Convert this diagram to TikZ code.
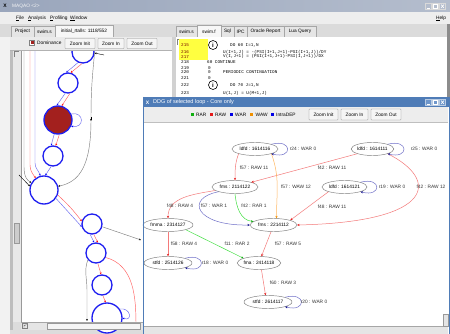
\documentclass[tikz,border=0pt]{standalone}
\usepackage{fontspec}
\setmainfont{Liberation Sans}
\setmonofont{Liberation Mono}
\usetikzlibrary{shapes.geometric,arrows.meta}
\definecolor{wintitleL}{HTML}{9AA6BC}
\definecolor{wintitleR}{HTML}{B4BDCD}
\definecolor{menubg}{HTML}{EEEEEE}
\definecolor{panelbg}{HTML}{DCDCDC}
\definecolor{dlgblue}{HTML}{4F7CB7}
\definecolor{dlgbtn}{HTML}{6F97CB}
\definecolor{rawc}{HTML}{F47A7A}
\definecolor{rawtip}{HTML}{E41A1A}
\definecolor{warc}{HTML}{7070C8}
\definecolor{wartip}{HTML}{12128A}
\definecolor{rarc}{HTML}{44E044}
\definecolor{rartip}{HTML}{10B010}
\definecolor{wawc}{HTML}{FFB760}
\definecolor{wawtip}{HTML}{F09000}
\definecolor{ngray}{HTML}{7C7C7C}
\definecolor{cblue}{HTML}{1E1EF0}
\definecolor{cred}{HTML}{A3201E}
\definecolor{lnred}{HTML}{FF6060}
\definecolor{lnblue}{HTML}{6A6AF0}
\definecolor{lngray}{HTML}{808080}
\definecolor{hlyellow}{HTML}{FFFF40}
\tikzset{
  uitext/.style={font=\fontsize{4.8}{5.5}\selectfont, inner sep=0},
  tabbox/.style={draw=black!35, fill=black!10},
  btnbox/.style={draw=black!45, fill=black!4, rounded corners=0.6pt},
  codetxt/.style={font=\ttfamily\fontsize{4.3}{5}\selectfont, inner sep=0, anchor=west},
  dnode/.style={ellipse, draw=ngray, line width=0.45pt, minimum height=13pt, inner sep=0, fill=white, font=\fontsize{4.8}{5.5}\selectfont},
  elab/.style={font=\fontsize{4.8}{5.5}\selectfont, text=black!80, inner sep=0},
  rawe/.style={draw=rawc, line width=0.5pt, -{Stealth[length=2.4pt,width=2.2pt,color=rawtip]}},
  ware/.style={draw=warc, line width=0.5pt, -{Stealth[length=2.4pt,width=2.2pt,color=wartip]}},
  rare/.style={draw=rarc, line width=0.5pt, -{Stealth[length=2.4pt,width=2.2pt,color=rartip]}},
  wawe/.style={draw=wawc, line width=0.5pt, -{Stealth[length=2.4pt,width=2.2pt,color=wawtip]}},
  lc/.style={circle, draw=cblue, line width=1.3pt, fill=white, inner sep=0},
  lred/.style={draw=lnred, line width=0.45pt, -{Stealth[length=2pt,width=1.8pt,color=red]}},
  lblu/.style={draw=lnblue, line width=0.45pt, -{Stealth[length=2pt,width=1.8pt,color=blue]}},
  lgry/.style={draw=lngray, line width=0.45pt, -{Stealth[length=2pt,width=1.8pt,color=black]}},
}
\begin{document}
\begin{tikzpicture}[x=1pt,y=1pt]
\useasboundingbox (0,0) rectangle (450,-334);
\fill[panelbg] (0,0) rectangle (450,-334);
% ---------- main window title bar
\shade[left color=wintitleL, right color=wintitleR] (0,0) rectangle (450,-12);
\node[font=\bfseries\fontsize{5}{5}\selectfont, inner sep=0] (xicon) at (5,-6) {X};
\node[uitext, anchor=west, text=white!92!gray] (wtitle) at (12,-6) {MAQAO <2>};
\foreach \x in {425,432,439} { \draw[fill=wintitleR, draw=white!70!gray] (\x,-3) rectangle ++(6.5,-6.5); }
\draw[white, line width=0.6pt] (426.5,-8) -- (430,-8);
\draw[white, line width=0.5pt] (433.5,-4.5) rectangle (437.5,-8);
\draw[white, line width=0.6pt] (441,-4.5) -- (444,-8) (441,-8) -- (444,-4.5);
% ---------- menu bar
\fill[menubg] (0,-12) rectangle (450,-24);
\node[uitext, anchor=west] (mfile) at (16,-18.5) {\underline{F}ile};
\node[uitext, anchor=west] (manal) at (28,-18.5) {\underline{A}nalysis};
\node[uitext, anchor=west] (mprof) at (50,-18.5) {\underline{P}rofiling};
\node[uitext, anchor=west] (mwin) at (70,-18.5) {\underline{W}indow};
\node[uitext, anchor=west] (mhelp) at (436,-18.5) {\underline{H}elp};
% ---------- tab row
\fill[black!14] (0,-24) rectangle (450,-37);
\draw[tabbox] (11,-26) rectangle (34,-37);
\node[uitext] (tproj) at (22.5,-31.5) {Project};
\draw[tabbox] (34,-26) rectangle (55,-37);
\node[uitext] (tswims) at (44.5,-31.5) {swim.s};
\draw[tabbox, fill=black!3] (55,-25) rectangle (113,-37);
\node[uitext] (tinit) at (84,-31.5) {initial\_rtalls: 1118/552};
\draw[tabbox] (176,-26) rectangle (197,-37);
\node[uitext] (rswims) at (186.5,-31.5) {swim.s};
\draw[tabbox, fill=black!3] (197,-25) rectangle (221,-37);
\node[uitext] (rswimf) at (209,-31.5) {swim.f};
\draw[tabbox] (221,-26) rectangle (234,-37);
\node[uitext] (rsql) at (227.5,-31.5) {Sql};
\draw[tabbox] (234,-26) rectangle (247,-37);
\node[uitext] (ripc) at (240.5,-31.5) {IPC};
\draw[tabbox] (247,-26) rectangle (284,-37);
\node[uitext] (rorac) at (265.5,-31.5) {Oracle Report};
\draw[tabbox] (284,-26) rectangle (316,-37);
\node[uitext] (rlua) at (300,-31.5) {Lua Query};
% ---------- left pane frame
\fill[black!5] (0,-37) rectangle (10,-334);
\fill[black!26] (10,-50) rectangle (13,-330);
\fill[black!9] (13,-50) rectangle (21,-322);
\draw[black!40, fill=black!20] (14.5,-223) rectangle (19.5,-243);
\fill[white] (21,-50) rectangle (172,-322);
\draw[black!40] (21,-50) -- (21,-322);
\fill[black!18] (172,-37) rectangle (176,-334);
% ---------- left graph (control flow)
\node[lc, minimum size=22pt] (T) at (83,-52) {};
\node[lc, minimum size=20pt] (A) at (68,-83) {};
\node[lc, minimum size=28pt, fill=cred] (B) at (58,-120) {};
\node[lc, minimum size=20pt] (C) at (53,-156) {};
\node[lc, minimum size=28pt] (D) at (44,-190) {};
\node[lc, minimum size=20pt] (E) at (92,-224) {};
\node[lc, minimum size=20pt] (F) at (96,-253) {};
\node[lc, minimum size=20pt] (G) at (102,-285) {};
\node[lc, minimum size=30pt] (H) at (107,-318) {};
\coordinate (vg) at (24,-50);
\coordinate (vr) at (30,-50);
\coordinate (vb) at (35,-50);
\coordinate (bk) at (19,-175);
\coordinate (eout) at (141,-240);
\coordinate (fdown) at (136,-326);
\coordinate (fgd) at (87,-321);
\coordinate (tin) at (104,-55);
\draw[lblu] (T.245) -- (A.100);
\draw[lred] (T.265) -- (A.75);
\draw[lblu] (A.255) -- (B.95);
\draw[lred] (A.280) -- (B.75);
\draw[lblu] (B.25) to[out=10,in=-10,looseness=2.8] (B.-25);
\draw[lblu] (B.255) -- (C.100);
\draw[lred] (B.275) -- (C.75);
\draw[lblu] (C.260) -- (D.85);
\draw[lgry] (T.east) .. controls (92,-80) and (91,-90) .. (91,-120) .. controls (91,-165) and (80,-182) .. (D.15);
\draw[-{Stealth[length=2pt,width=1.8pt]}, black, line width=0.4pt] (91,-117) -- (91,-121);
\draw[lgry] (vg) -- (24,-160) to[out=-90,in=150] (D.150);
\draw[lred] (vr) -- (30,-165) to[out=-90,in=125] (D.125);
\draw[lblu] (vb) -- (35,-163) to[out=-90,in=105] (D.105);
\draw[-{Stealth[length=2pt,width=1.8pt]}, black, line width=0.4pt] (bk) -- (D.165);
\draw[-{Stealth[length=2pt,width=1.8pt]}, black, line width=0.4pt] (tin) -- (T.-5);
\draw[lred] (D.-20) to[bend left=5] (E.165);
\draw[lblu] (D.-35) -- (E.195);
\draw[lblu] (E.260) -- (F.100);
\draw[lred] (E.280) -- (F.80);
\draw[lgry] (E.-15) -- (eout);
\draw[lred] (F.-80) -- (G.95);
\draw[draw=lnred, line width=0.45pt] (F.-25) to[out=-15,in=90] (fdown);
\draw[lgry] (F.220) to[out=-110,in=90] (87,-290) -- (fgd);
\draw[lred] (G.-85) -- (H.95);
\draw[lblu] (H.35) to[out=10,in=-20,looseness=3] (H.0);
% ---------- left toolbar (drawn over graph top)
\fill[black!8] (10,-37) rectangle (172,-50);
\draw[black!30] (10,-50) -- (172,-50);
\draw[black!50, fill=white] (29.5,-40.5) rectangle (34.5,-45.5);
\fill[cred] (30.5,-41.5) rectangle (33.5,-44.5);
\node[uitext, anchor=west] (dom) at (37,-43) {Dominance};
\draw[btnbox] (65,-38.5) rectangle (95,-48.5);
\node[uitext] (lzi) at (80,-43.5) {Zoom Init};
\draw[btnbox] (98,-38.5) rectangle (124,-48.5);
\node[uitext] (lzin) at (111,-43.5) {Zoom In};
\draw[btnbox] (127,-38.5) rectangle (157,-48.5);
\node[uitext] (lzo) at (142,-43.5) {Zoom Out};
\draw[black!50] (14,-51.5) -- (14,-57) (14,-51.5) -- (19,-51.5);
% left bottom scrollbar
\fill[black!10] (21,-322) rectangle (172,-330);
\draw[black!35] (21,-322) -- (172,-322);
\draw[black!40, fill=black!4] (47,-323) rectangle (140,-329);
\draw[black!50] (22.5,-323.5) rectangle (27.5,-328.5);
\draw[black!60] (24,-324.5) -- (24,-327.5) (24,-326) -- (26.5,-324.5);
% ---------- code pane
\fill[white] (176,-37) rectangle (447,-334);
\fill[black!45] (447,-24) rectangle (450,-334);
\draw[black!50] (177.5,-39) -- (177.5,-45) (177.5,-39) -- (182,-39);
\fill[hlyellow] (179,-39.5) rectangle (208,-60);
\node[codetxt, text=red!45!black] (n215) at (181,-45) {215};
\node[codetxt, text=red!45!black] (n216) at (181,-52.3) {216};
\node[codetxt, text=red!45!black] (n217) at (181,-56.7) {217};
\node[codetxt] (n218) at (181,-62.3) {218};
\node[codetxt] (n219) at (181,-67.7) {219};
\node[codetxt] (n220) at (181,-72.3) {220};
\node[codetxt] (n221) at (181,-77.7) {221};
\node[codetxt] (n222) at (181,-85) {222};
\node[codetxt] (n223) at (181,-93.5) {223};
\node[circle, draw=black, line width=0.6pt, minimum size=9pt, inner sep=0, font=\bfseries\fontsize{6}{6}\selectfont] (info1) at (213,-45) {i};
\node[circle, draw=black, line width=0.6pt, minimum size=9pt, inner sep=0, font=\bfseries\fontsize{6}{6}\selectfont] (info2) at (213,-85) {i};
\node[codetxt] (c215) at (230,-45) {DO 60 I=1,N};
\node[codetxt] (c216) at (223,-52.3) {U(I+1,J) = -(PSI(I+1,J+1)-PSI(I+1,J))/DY};
\node[codetxt] (c217) at (223,-56.7) {V(I,J+1) = (PSI(I+1,J+1)-PSI(I,J+1))/DX};
\node[codetxt] (c218) at (207,-62.3) {60 CONTINUE};
\node[codetxt] (z219) at (208,-67.7) {0};
\node[codetxt] (z220) at (208,-72.3) {0};
\node[codetxt] (c220) at (223,-72.3) {PERIODIC CONTINUATION};
\node[codetxt] (z221) at (208,-77.7) {0};
\node[codetxt] (c222) at (230,-85) {DO 70 J=1,N};
\node[codetxt] (c223) at (223,-93.5) {U(1,J) = U(M+1,J)};
% ---------- dialog window
\fill[white] (143,-97) rectangle (450,-334);
\fill[dlgblue] (143,-97) rectangle (450,-107.5);
\node[font=\bfseries\fontsize{5}{5}\selectfont, inner sep=0, text=white] (dxicon) at (147.5,-102.3) {X};
\node[font=\fontsize{5.5}{6}\selectfont, inner sep=0, anchor=west, text=white] (dtitle) at (153,-102.3) {DDG of selected loop - Core only};
\foreach \x in {425,432,439} { \draw[fill=dlgbtn, draw=white!60!dlgblue] (\x,-99) rectangle ++(6.5,-6.5); }
\draw[white, line width=0.6pt] (426.5,-104) -- (430,-104);
\draw[white, line width=0.5pt] (433.5,-100.5) rectangle (437.5,-104);
\draw[white, line width=0.6pt] (441,-100.5) -- (444,-104) (441,-104) -- (444,-100.5);
\fill[black!7] (144,-107.5) rectangle (448,-122);
\draw[black!25] (144,-122) -- (448,-122);
\fill[rartip] (190.5,-112.8) rectangle ++(3.4,-3.4);
\node[uitext, anchor=west] (lgrar) at (196,-114.5) {RAR};
\fill[rawtip] (209.5,-112.8) rectangle ++(3.4,-3.4);
\node[uitext, anchor=west] (lgraw) at (215,-114.5) {RAW};
\fill[blue!90!black] (229.5,-112.8) rectangle ++(3.4,-3.4);
\node[uitext, anchor=west] (lgwar) at (235,-114.5) {WAR};
\fill[wawtip] (250,-112.8) rectangle ++(3.4,-3.4);
\node[uitext, anchor=west] (lgwaw) at (255.5,-114.5) {WAW};
\fill[blue!90!black] (270.5,-112.8) rectangle ++(3.4,-3.4);
\node[uitext, anchor=west] (lgintra) at (276,-114.5) {IntraDEP};
\draw[btnbox] (309,-109) rectangle (338,-120);
\node[uitext] (dzi) at (323.5,-114.5) {Zoom Init};
\draw[btnbox] (341,-109) rectangle (368,-120);
\node[uitext] (dzin) at (354.5,-114.5) {Zoom In};
\draw[btnbox] (371,-109) rectangle (401,-120);
\node[uitext] (dzo) at (386,-114.5) {Zoom Out};
% DDG nodes
\node[dnode, minimum width=46pt] (l116) at (255,-149) {ldfd : 1614116};
\node[dnode, minimum width=42pt] (l111) at (372.5,-149) {ldfd : 1614111};
\node[dnode, minimum width=46pt] (f122) at (235,-187) {fms : 2114122};
\node[dnode, minimum width=45pt] (l121) at (344.5,-187) {ldfd : 1614121};
\node[dnode, minimum width=50pt] (m127) at (168,-225) {fmma : 2314127};
\node[dnode, minimum width=47pt] (f112) at (273.5,-225) {fms : 2214112};
\node[dnode, minimum width=48pt] (s126) at (168,-263) {stfd : 2514126};
\node[dnode, minimum width=40pt] (a118) at (259,-263) {fma : 2414118};
\node[dnode, minimum width=48pt] (s117) at (268,-302) {stfd : 2614117};
% DDG edges
\draw[rawe] (l116.south west) to[out=-110,in=90] (f122.north);
\draw[rawe] (l111.south west) -- (f122.north east);
\draw[wawe] (l116.south east) to[out=-70,in=90] ([xshift=3pt]f112.north);
\draw[rawe] (l111.south east) .. controls (440,-180) and (435,-222) .. (f112.east);
\draw[rawe] (l121.south west) -- (f112.north east);
\draw[rawe] (f122.190) to[out=190,in=90] (m127.north);
\draw[ware] (f122.south west) .. controls (185,-198) and (195,-226) .. (f112.west);
\draw[rare] (f122.south) to[out=-85,in=175] (f112.170);
\draw[rawe] (f112.250) -- (a118.70);
\draw[rawe] (m127.south) -- (s126.north);
\draw[rare] (m127.south east) -- (a118.north west);
\draw[rawe] (a118.-70) -- (s117.110);
% self loops
\draw[ware] (l116.north east) to[out=15,in=-15,looseness=6] (l116.south east);
\draw[ware] (l111.north east) to[out=15,in=-15,looseness=6] (l111.south east);
\draw[ware] (l121.north east) to[out=15,in=-15,looseness=6] (l121.south east);
\draw[ware] (s126.north east) to[out=15,in=-15,looseness=6] (s126.south east);
\draw[ware] (s117.north east) to[out=15,in=-15,looseness=6] (s117.south east);
% edge labels
\node[elab] (e1) at (254,-168) {f57 : RAW 11};
\node[elab] (e2) at (332,-168) {f42 : RAW 11};
\node[elab] (e3) at (296,-187) {f57 : WAW 12};
\node[elab] (e4) at (431,-187) {f42 : RAW 12};
\node[elab] (e5) at (332,-207) {f48 : RAW 11};
\node[elab] (e6) at (180,-206) {f48 : RAW 4};
\node[elab] (e7) at (214,-206) {f57 : WAR 1};
\node[elab] (e8) at (254,-206) {f42 : RAR 1};
\node[elab] (e9) at (288,-244) {f57 : RAW 5};
\node[elab] (e10) at (184,-244) {f58 : RAW 4};
\node[elab] (e11) at (237,-244) {f11 : RAR 2};
\node[elab] (e12) at (283,-283) {f60 : RAW 3};
\node[elab] (r24) at (303,-149) {r24 : WAR 0};
\node[elab] (r25) at (424,-149) {r25 : WAR 0};
\node[elab] (r19) at (392,-187) {r19 : WAR 0};
\node[elab] (r18) at (215,-263) {r18 : WAR 0};
\node[elab] (r20) at (314,-302) {r20 : WAR 0};
% dialog scrollbars and border
\fill[black!10] (144,-326) rectangle (448,-334);
\draw[black!35] (144,-326) -- (448,-326);
\draw[black!40, fill=black!10] (443,-314) rectangle (448,-326);
\draw[dlgblue, line width=1pt] (143.5,-97) -- (143.5,-334);
\draw[dlgblue, line width=1.2pt] (449.4,-97) -- (449.4,-334);
\end{tikzpicture}
\end{document}
